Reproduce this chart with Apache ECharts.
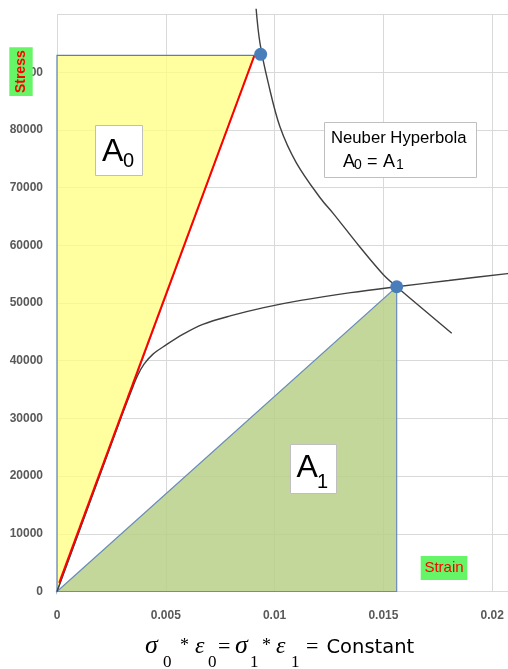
<!DOCTYPE html>
<html>
<head>
<meta charset="utf-8">
<script src="https://cdn.jsdelivr.net/npm/echarts@6/dist/echarts.min.js"></script>
<style>
html,body{margin:0;padding:0;background:#fff;}
#chart{width:508px;height:669px;}
</style>
</head>
<body>
<div id="chart"></div>
<script>
// ---- data (strain, stress) ----
const yellowTriangle = [[0, 0], [0, 92900], [0.00907, 92900]];
const greenTriangle = [[0, 0], [0.01561, 52820], [0.01561, 0]];
const elasticLine = [[0.0001, 1500], [0.00907, 92860]];
const stressStrain = [
  [0, 0], [0.0030, 30700], [0.0034, 34600],
  [0.0037, 37400], [0.0040, 39400], [0.0044, 41100], [0.0050, 42700], [0.0058, 44600],
  [0.0067, 46300], [0.0080, 47800], [0.0095, 49200], [0.0112, 50450],
  [0.0135, 51800], [0.0156, 52820], [0.0180, 53900], [0.0207, 55100], [0.0220, 55650]
];
const hyperbola = [
  [0.00915, 101000], [0.00933, 95000], [0.00971, 88100], [0.01025, 80500],
  [0.0110, 74300], [0.0121, 68200], [0.0127, 65500],
  [0.0139, 59800], [0.0150, 54900], [0.01561, 52820], [0.0165, 49950], [0.01814, 44750]
];
const keyPoints = [[0.00936, 93100], [0.01561, 52820]];
const xMin = 0, xMax = 0.025, xInterval = 0.005;
const yMin = 0, yMax = 100000, yInterval = 10000;

const chart = echarts.init(document.getElementById('chart'), null, {renderer: 'canvas'});

function polygonSeries(points, fill, stroke, z) {
  return {
    type: 'custom', z: z, silent: true,
    data: points,
    encode: {x: 0, y: 1},
    renderItem: function (params, api) {
      if (params.dataIndex !== 0) return null;
      const pts = points.map(p => api.coord(p));
      return {type: 'polygon', shape: {points: pts}, style: {fill: fill, stroke: stroke, lineWidth: 1.2}};
    }
  };
}

const labelFont = {fontFamily: 'Liberation Sans', fontSize: 12, fontWeight: 'bold', color: '#595959'};

function txt(x, y, text, font, size, extra) {
  return {
    type: 'text', x: x, y: y, z: 100,
    style: Object.assign({text: text, font: size + 'px ' + font, fill: '#000', align: 'left', verticalAlign: 'top'}, extra || {})
  };
}
const sans = '"Liberation Sans"';
const serif = '"Liberation Serif"';

const option = {
  animation: false,
  backgroundColor: '#fff',
  grid: {left: 57, top: 14.5, right: -93, bottom: 77.5, containLabel: false, outerBoundsMode: 'none'},
  xAxis: {
    type: 'value', min: xMin, max: xMax, interval: xInterval,
    axisLine: {show: true, lineStyle: {color: '#d9d9d9', width: 1}},
    axisTick: {show: false},
    splitLine: {show: true, lineStyle: {color: '#d9d9d9', width: 1}},
    axisLabel: Object.assign({margin: 18}, labelFont)
  },
  yAxis: {
    type: 'value', min: yMin, max: yMax, interval: yInterval,
    axisLine: {show: true, lineStyle: {color: '#d9d9d9', width: 1}},
    axisTick: {show: false},
    splitLine: {show: true, lineStyle: {color: '#d9d9d9', width: 1}},
    axisLabel: Object.assign({margin: 14, formatter: v => v === yMax ? '' : String(v)}, labelFont)
  },
  series: [
    polygonSeries(greenTriangle, 'rgba(186,208,137,0.85)', '#6a8cba', 2),
    polygonSeries(yellowTriangle, 'rgba(255,255,128,0.75)', '#5b7fb0', 3),
    {
      type: 'line', data: stressStrain, smooth: 0.35, symbol: 'none', z: 4,
      lineStyle: {color: '#404040', width: 1.4}
    },
    {
      type: 'line', data: elasticLine, symbol: 'none', z: 5,
      lineStyle: {color: '#ff0000', width: 2}
    },
    {
      type: 'line', data: hyperbola, smooth: 0.35, symbol: 'none', z: 6, clip: false,
      lineStyle: {color: '#404040', width: 1.4}
    },
    {
      type: 'scatter', data: keyPoints, symbol: 'circle', symbolSize: 13, z: 7,
      itemStyle: {color: '#4a7ebb', opacity: 1}
    }
  ],
  graphic: [
    {type: 'rect', z: 90, shape: {x: 95.5, y: 125.5, width: 47, height: 50}, style: {fill: '#fff', stroke: '#bfbfbf', lineWidth: 1}},
    txt(102, 135.8, 'A', sans, 32),
    txt(123, 151.4, '0', sans, 20),
    {type: 'rect', z: 90, shape: {x: 290.5, y: 444.5, width: 46, height: 49}, style: {fill: '#fff', stroke: '#bfbfbf', lineWidth: 1}},
    txt(296.5, 452.5, 'A', sans, 32),
    txt(317, 472.4, '1', sans, 20),
    {type: 'rect', z: 90, shape: {x: 324.5, y: 122.5, width: 152, height: 55}, style: {fill: '#fff', stroke: '#bfbfbf', lineWidth: 1}},
    txt(331, 129.4, 'Neuber Hyperbola', sans, 16.7),
    txt(343, 152.7, 'A', sans, 18),
    txt(354, 158.2, '0', sans, 14),
    txt(367, 152.7, '=', sans, 18),
    txt(383, 152.7, 'A', sans, 18),
    txt(396, 158.2, '1', sans, 14),
    {type: 'rect', z: 90, shape: {x: 9.3, y: 47.3, width: 23.4, height: 48.7}, style: {fill: '#66f566'}},
    {type: 'text', z: 100, x: 21, y: 71.7, rotation: Math.PI / 2,
     style: {text: 'Stress', font: 'bold 14px ' + sans, fill: '#ff0000', align: 'center', verticalAlign: 'middle'}},
    {type: 'rect', z: 90, shape: {x: 420.7, y: 556, width: 46.6, height: 24}, style: {fill: '#66f566'}},
    {type: 'text', z: 100, x: 444, y: 568,
     style: {text: 'Strain', font: '15px ' + sans, fill: '#ff0000', align: 'center', verticalAlign: 'middle'}},
    txt(145, 633.2, 'σ', serif, 26, {font: 'italic 26px ' + serif}),
    txt(163, 654.1, '0', serif, 17),
    txt(180, 636.9, '*', serif, 18),
    txt(195, 634.9, 'ε', serif, 24, {font: 'italic 24px ' + serif}),
    txt(208, 654.1, '0', serif, 17),
    txt(218, 636.6, '=', serif, 22),
    txt(235, 633.2, 'σ', serif, 26, {font: 'italic 26px ' + serif}),
    txt(250, 654.1, '1', serif, 17),
    txt(262, 636.9, '*', serif, 18),
    txt(276, 634.9, 'ε', serif, 24, {font: 'italic 24px ' + serif}),
    txt(291, 654.1, '1', serif, 17),
    txt(306, 636.6, '=', serif, 22),
    txt(326.5, 638, 'Constant', '"DejaVu Sans"', 19.5)
  ]
};
chart.setOption(option);
</script>
</body>
</html>
